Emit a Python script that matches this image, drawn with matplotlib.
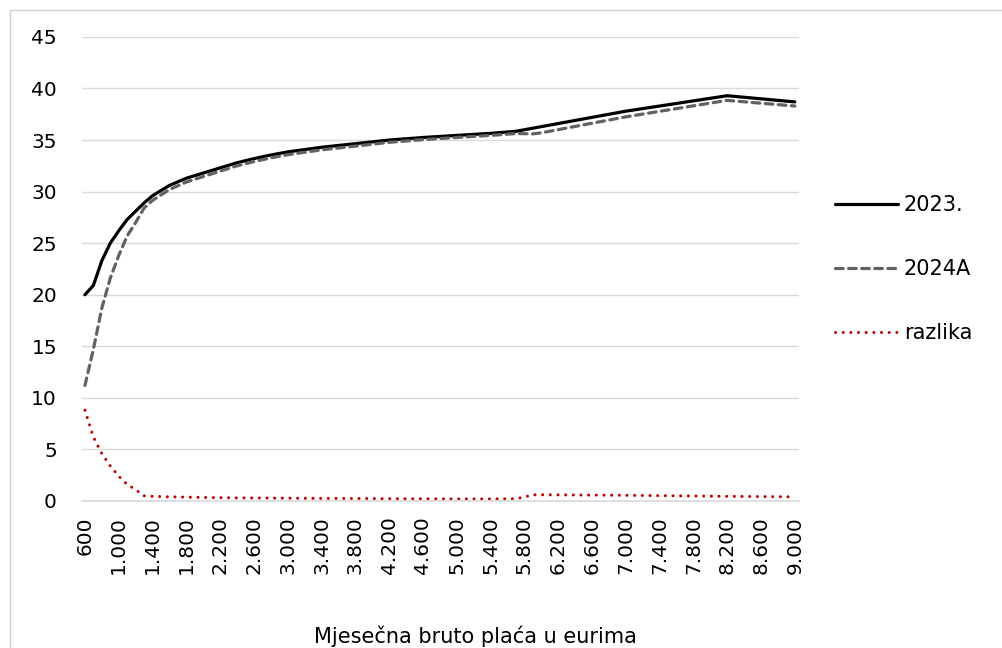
import matplotlib

matplotlib.use("Agg")
import matplotlib.pyplot as plt  # noqa: E402
from matplotlib.patches import Rectangle  # noqa: E402

# gross monthly wage (EUR) and the three series
wage = [600, 700, 800, 900, 1000, 1100, 1200, 1300, 1400, 1600, 1800, 2000, 2200,
        2400, 2600, 2800, 3000, 3400, 3800, 4200, 4600, 5000, 5400, 5700, 5800,
        5900, 6000, 7000, 8200, 9000]
y2023 = [20.0, 20.9, 23.3, 25.0, 26.2, 27.3, 28.1, 28.9, 29.6, 30.6, 31.3, 31.8, 32.3,
         32.8, 33.2, 33.55, 33.85, 34.3, 34.65, 35.0, 35.25, 35.45, 35.65, 35.85, 36.0,
         36.15, 36.3, 37.8, 39.3, 38.7]
y2024a = [11.2, 14.7, 18.7, 21.6, 23.8, 25.7, 27.0, 28.4, 29.15, 30.2, 30.93, 31.46, 31.98,
          32.5, 32.91, 33.27, 33.58, 34.05, 34.41, 34.78, 35.04, 35.25, 35.45, 35.63, 35.62,
          35.6, 35.7, 37.25, 38.85, 38.3]
razlika = [8.8, 6.2, 4.6, 3.4, 2.4, 1.6, 1.1, 0.5, 0.45, 0.4, 0.37, 0.34, 0.32,
           0.3, 0.29, 0.28, 0.27, 0.25, 0.24, 0.22, 0.21, 0.2, 0.2, 0.22, 0.38,
           0.6, 0.6, 0.55, 0.45, 0.4]

tick_values = list(range(600, 9001, 400))
tick_labels = [f"{v:,}".replace(",", ".") for v in tick_values]

plt.rcParams["font.family"] = "DejaVu Sans"

fig = plt.figure(figsize=(10.02, 6.48), dpi=100)
ax = fig.add_axes([0.0818, 0.2269, 0.797 - 0.0818, 0.943 - 0.2269])

fig.patches.append(Rectangle((10 / 1002, -0.1), 1.2, 1 - 10 / 648 + 0.1,
                             transform=fig.transFigure, fill=False,
                             edgecolor="#d0d0d0", linewidth=1.0))

ax.plot(wage, y2023, color="black", linewidth=2.3, label="2023.", solid_capstyle="round")
ax.plot(wage, y2024a, color="#626262", linewidth=2.3, label="2024A",
        dashes=(2.4, 1.7), dash_capstyle="round")
ax.plot(wage, razlika, color="#c00000", linewidth=2.2, label="razlika",
        dashes=(0.01, 2.5), dash_capstyle="round")

ax.set_xlim(565, 9045)
ax.set_ylim(0, 45)
ax.set_yticks(range(0, 46, 5))
ax.set_xticks(tick_values)
ax.set_xticklabels(tick_labels, rotation=90)
ax.grid(axis="y", color="#d9d9d9", linewidth=1.0)
ax.set_axisbelow(True)
for side in ["top", "right", "left"]:
    ax.spines[side].set_visible(False)
ax.spines["bottom"].set_color("#d9d9d9")
ax.spines["bottom"].set_linewidth(1.2)
ax.tick_params(axis="both", length=0, labelsize=14.5, colors="black")
ax.tick_params(axis="y", pad=18)
ax.tick_params(axis="x", pad=11)

ax.legend(loc="upper left", bbox_to_anchor=(835 / 1002, 1 - 195 / 648), bbox_transform=fig.transFigure,
          frameon=False, fontsize=15, handlelength=3.0, handletextpad=0.3,
          labelspacing=2.12, borderpad=0, borderaxespad=0)

fig.text(475 / 1002, 1 - 636 / 648, "Mjesečna bruto plaća u eurima", ha="center", va="center",
         fontsize=15)

fig.savefig("out.png", dpi=100)
